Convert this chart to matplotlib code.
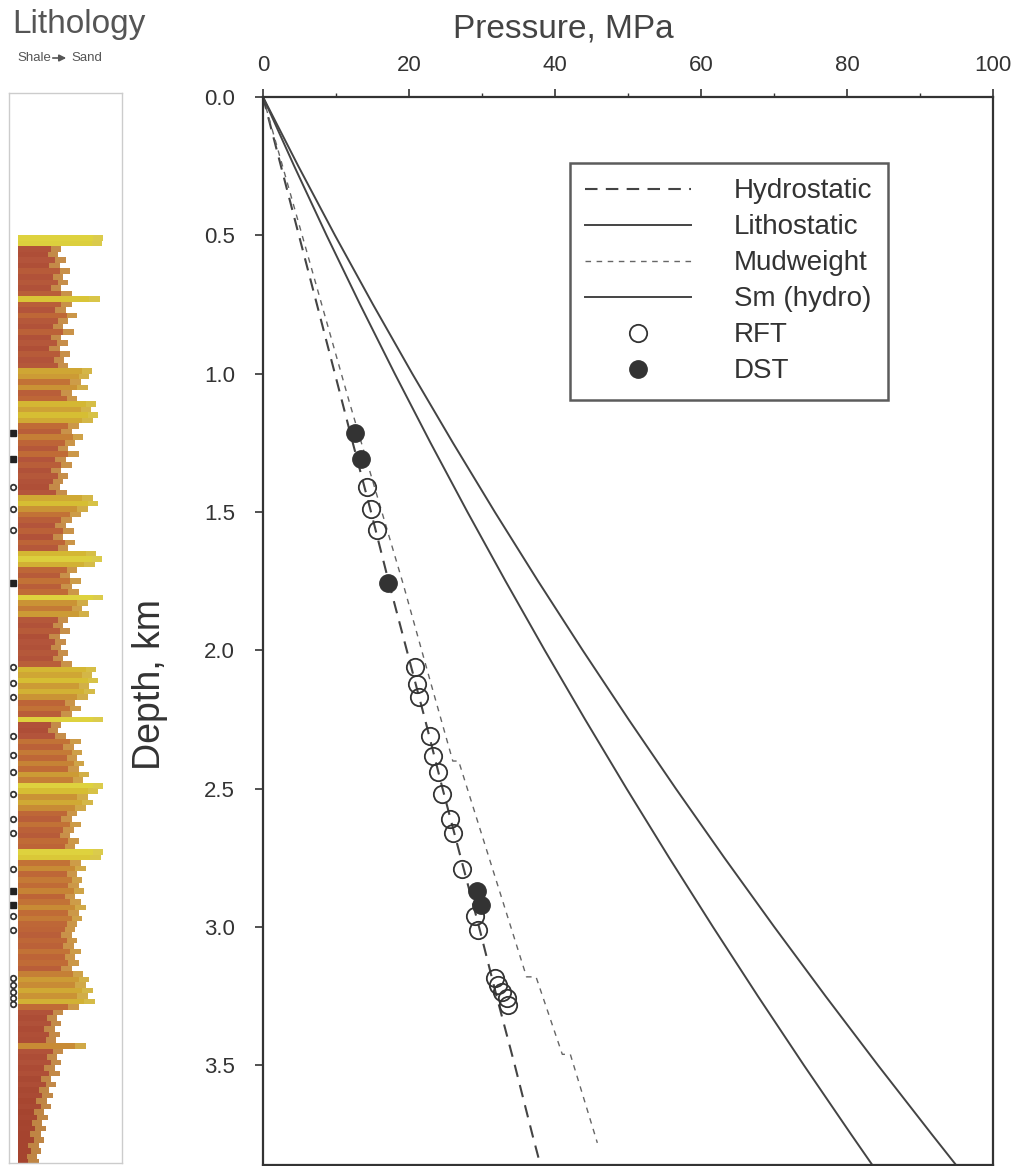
import numpy as np
import matplotlib
matplotlib.use('Agg')
import matplotlib.pyplot as plt
from matplotlib.colors import LinearSegmentedColormap, Normalize
from matplotlib.ticker import FormatStrFormatter, MultipleLocator

plt.rcParams['font.family'] = ['Liberation Sans', 'DejaVu Sans']

# ─── Pressure profiles (depth km, pressure MPa) ───
line_depth = [0.0, 0.25, 0.5, 0.75, 1.0, 1.25, 1.5, 1.75, 2.0,
              2.25, 2.5, 2.75, 3.0, 3.25, 3.5, 3.75, 3.86]
hydrostatic = [0.0, 2.46, 4.92, 7.39, 9.85, 12.3, 14.8, 17.2, 19.7,
               22.2, 24.6, 27.1, 29.6, 32.0, 34.5, 36.9, 38.0]
lithostatic = [0.0, 4.84, 9.86, 15.07, 20.45, 26.02, 31.76, 37.69, 43.8,
               50.09, 56.56, 63.21, 70.05, 77.07, 84.26, 91.64, 94.94]
sm_hydro = [0.0, 4.28, 8.71, 13.30, 18.05, 22.95, 28.01, 33.23, 38.6,
            44.13, 49.81, 55.65, 61.65, 67.80, 74.11, 80.58, 83.47]

mud_depth = [0.0, 1.10, 1.76, 2.11, 2.40, 2.40, 3.18, 3.18, 3.46, 3.46, 3.78]
mud_press = [0.0, 11.8, 19.2, 22.9, 26.0, 26.8, 36.1, 37.4, 41.0, 42.1, 45.8]

# ─── Pressure measurements ───
rft_depth = [1.41, 1.49, 1.565, 2.06, 2.12, 2.17, 2.31, 2.38, 2.44, 2.52,
             2.61, 2.66, 2.79, 2.96, 3.01, 3.185, 3.21, 3.235, 3.257, 3.28]
rft_press = [14.2, 14.8, 15.6, 20.8, 21.1, 21.4, 22.9, 23.3, 24.0, 24.5,
             25.6, 26.0, 27.3, 29.0, 29.5, 31.8, 32.2, 32.7, 33.4, 33.6]
dst_depth = [1.215, 1.31, 1.757, 2.87, 2.92]
dst_press = [12.6, 13.4, 17.1, 29.3, 29.8]

# ─── Lithology log (shale 0 -> sand 1), sampled every 0.02 km from 0.50 km ───
log_top = 0.50
log_step = 0.02
log_values = [
    0.98, 0.97, 0.50, 0.46, 0.55, 0.48, 0.60, 0.52, 0.58, 0.50,
    0.62, 0.94, 0.62, 0.55, 0.68, 0.58, 0.52, 0.64, 0.50, 0.57,
    0.48, 0.60, 0.53, 0.58, 0.85, 0.82, 0.72, 0.80, 0.62, 0.68,
    0.90, 0.84, 0.92, 0.86, 0.70, 0.62, 0.75, 0.66, 0.58, 0.70,
    0.55, 0.62, 0.50, 0.58, 0.52, 0.48, 0.56, 0.86, 0.92, 0.80,
    0.72, 0.62, 0.55, 0.64, 0.52, 0.66, 0.58, 0.90, 0.97, 0.88,
    0.68, 0.60, 0.72, 0.62, 0.70, 0.98, 0.80, 0.74, 0.82, 0.58,
    0.52, 0.60, 0.48, 0.55, 0.50, 0.58, 0.52, 0.62, 0.90, 0.85,
    0.92, 0.82, 0.88, 0.80, 0.66, 0.72, 0.62, 0.98, 0.50, 0.46,
    0.55, 0.72, 0.64, 0.74, 0.68, 0.76, 0.70, 0.82, 0.75, 0.98,
    0.92, 0.80, 0.86, 0.78, 0.68, 0.62, 0.72, 0.64, 0.60, 0.70,
    0.66, 0.98, 0.95, 0.72, 0.78, 0.68, 0.74, 0.70, 0.76, 0.66,
    0.72, 0.78, 0.70, 0.74, 0.68, 0.66, 0.62, 0.68, 0.64, 0.72,
    0.66, 0.70, 0.62, 0.75, 0.82, 0.78, 0.86, 0.80, 0.88, 0.70,
    0.52, 0.45, 0.50, 0.42, 0.48, 0.44, 0.78, 0.52, 0.45, 0.50,
    0.42, 0.48, 0.38, 0.44, 0.36, 0.40, 0.33, 0.38, 0.30, 0.34,
    0.28, 0.32, 0.26, 0.30, 0.24, 0.27, 0.22, 0.24,
]

W, H = 1020, 1166
fig = plt.figure(figsize=(W / 100, H / 100), dpi=100)

# main axes: x 263..993 px, y 97..1165 px
ax = fig.add_axes([263 / W, 1 - 1165 / H, 730 / W, 1068 / H])
ax.plot(hydrostatic, line_depth, color='#444444', lw=1.5, ls=(0, (6, 4)), label='Hydrostatic')
ax.plot(lithostatic, line_depth, color='#444444', lw=1.4, label='Lithostatic')
ax.plot(mud_press, mud_depth, color='#666666', lw=1.0, ls=(0, (4, 4)), label='Mudweight')
ax.plot(sm_hydro, line_depth, color='#444444', lw=1.4, label='Sm (hydro)')
ax.plot(rft_press, rft_depth, ls='none', marker='o', ms=12.5, mfc='none',
        mec='#333333', mew=1.3, label='RFT')
ax.plot(dst_press, dst_depth, ls='none', marker='o', ms=12.5, mfc='#333333',
        mec='#333333', label='DST')

ax.set_xlim(0, 100)
ax.set_ylim(3.86, 0)
ax.xaxis.tick_top()
ax.set_xticks([0, 20, 40, 60, 80, 100])
ax.xaxis.set_minor_locator(MultipleLocator(10))
ax.yaxis.set_major_locator(MultipleLocator(0.5))
ax.yaxis.set_major_formatter(FormatStrFormatter('%.1f'))
ax.tick_params(axis='both', which='major', labelsize=16, labelcolor='#333333',
               color='#333333', length=6, width=1.2)
ax.tick_params(axis='y', pad=14)
ax.tick_params(axis='x', pad=9)
ax.tick_params(axis='x', which='minor', length=3, width=1.0, color='#333333')
for s in ax.spines.values():
    s.set_color('#333333')
    s.set_linewidth(1.6)

leg = ax.legend(loc='upper left', bbox_to_anchor=((570 - 263) / 730, 1 - (163 - 97) / 1068),
                borderaxespad=0, fontsize=20, frameon=True, fancybox=False,
                handlelength=3.8, handletextpad=1.55, labelspacing=0.36, borderpad=0.55)
leg.get_frame().set_edgecolor('#333333')
leg.get_frame().set_linewidth(1.8)
for t in leg.get_texts():
    t.set_color('#333333')

fig.text(563 / W, 1 - 29 / H, 'Pressure, MPa', fontsize=24, color='#444444',
         ha='center', va='center')
fig.text(150 / W, 1 - 685 / H, 'Depth, km', fontsize=27, color='#333333',
         ha='center', va='center', rotation=90)

# ─── Lithology column: box x 9..122 px, y 93..1163 px ───
lax = fig.add_axes([9 / W, 1 - 1163 / H, 113 / W, 1070 / H])
lax.set_xlim(-9 / 87, 104 / 87)
lax.set_ylim((1163 - 97) / 276.6, (93 - 97) / 276.6)
cmap = LinearSegmentedColormap.from_list('litho', [
    (0.0, '#a5442f'), (0.36, '#b3543b'), (0.57, '#c06a36'),
    (0.74, '#cc9a35'), (0.89, '#d6bf33'), (1.0, '#e0d842')])
norm = Normalize(0.3, 1.0)
log_depth = log_top + log_step * np.arange(len(log_values))
vals = np.array(log_values)
lax.barh(log_depth, vals, height=log_step, left=0, align='edge',
         color=cmap(norm(vals)), linewidth=0)
# lighter sandy tips on each row
tip = 0.12
lax.barh(log_depth, np.full(len(vals), tip), height=log_step, left=vals - tip,
         align='edge', color='#d9c65a', alpha=0.5, linewidth=0)
lax.plot(np.full(len(rft_depth), -0.063), rft_depth, ls='none', marker='o', ms=4,
         mfc='none', mec='#333333', mew=1.3)
lax.plot(np.full(len(dst_depth), -0.063), dst_depth, ls='none', marker='s', ms=5,
         mfc='#222222', mec='#222222')
lax.set_xticks([])
lax.set_yticks([])
for s in lax.spines.values():
    s.set_color('#cccccc')
    s.set_linewidth(1.0)

fig.text(12 / W, 1 - 24 / H, 'Lithology', fontsize=24, color='#555555',
         ha='left', va='center')
fig.text(17 / W, 1 - 58 / H, 'Shale', fontsize=9.5, color='#555555', ha='left', va='center')
fig.text(71 / W, 1 - 58 / H, 'Sand', fontsize=9.5, color='#555555', ha='left', va='center')
fig.add_artist(matplotlib.patches.FancyArrowPatch(
    (50 / W, 1 - 58 / H), (69 / W, 1 - 58 / H), transform=fig.transFigure,
    arrowstyle='-|>', mutation_scale=10, color='#555555', lw=1.2))

fig.savefig('out.png', dpi=100)
